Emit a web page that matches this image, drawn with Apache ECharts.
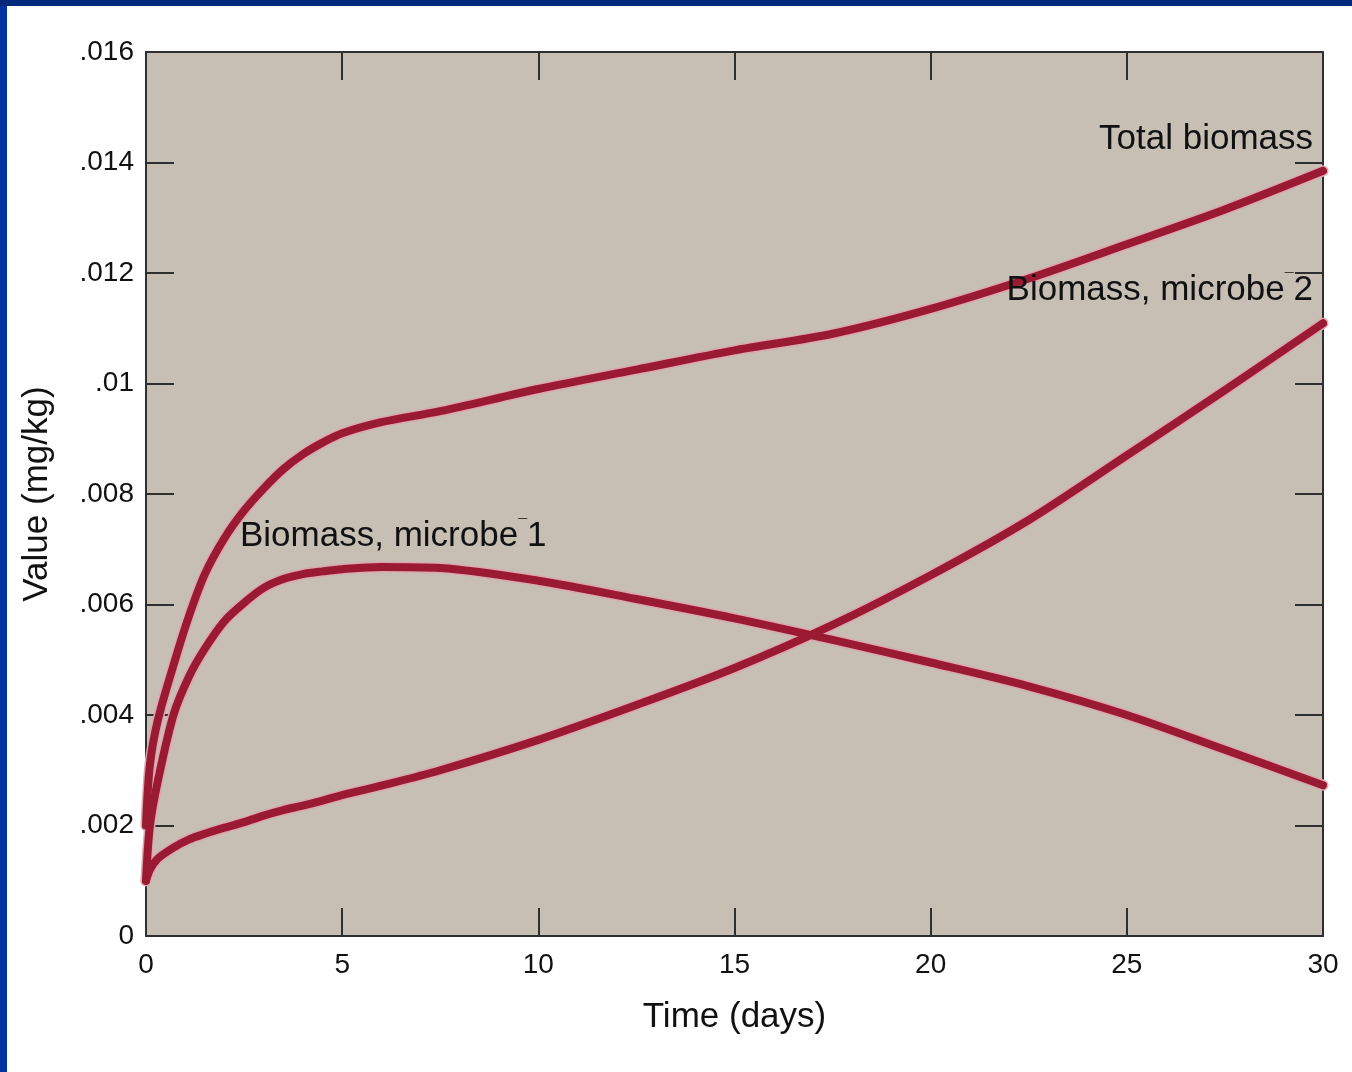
<!DOCTYPE html>
<html>
<head>
<meta charset="utf-8">
<script src="https://cdn.jsdelivr.net/npm/echarts@6/dist/echarts.min.js"></script>
<style>
  html, body { margin: 0; padding: 0; background: #ffffff; }
  #chart { position: absolute; left: 0; top: 0; width: 1352px; height: 1072px; }
  .frame-left { position: absolute; left: 0; top: 0; width: 7px; height: 1072px; background: #0034a0; }
  .frame-top { position: absolute; left: 0; top: 0; width: 1352px; height: 6px; background: #012a7d; }
</style>
</head>
<body>
<div id="chart"></div>
<div class="frame-left"></div>
<div class="frame-top"></div>
<script>
// time in days
const days = [0, 0.1, 0.3, 0.7, 1.1, 1.5, 2, 2.5, 3, 3.5, 4, 4.5, 5, 6, 7.5, 10, 12.5, 15, 17.5, 20, 22.5, 25, 27.5, 30]

// mg/kg
const totalBiomass = [0.002, 0.0031, 0.0039, 0.0049, 0.0058, 0.00655, 0.0072, 0.0077, 0.0081, 0.00845, 0.00872, 0.00893, 0.0091, 0.0093, 0.0095, 0.0099, 0.01025, 0.0106, 0.0109, 0.01135, 0.0119, 0.01252, 0.01315, 0.01385]
const microbe1 = [0.001, 0.002, 0.0028, 0.004, 0.0047, 0.0052, 0.0057, 0.00603, 0.0063, 0.00646, 0.00655, 0.0066, 0.00664, 0.00668, 0.00666, 0.00643, 0.0061, 0.00575, 0.00536, 0.00495, 0.00452, 0.004, 0.00337, 0.00273]
const microbe2 = [0.001, 0.0012, 0.0014, 0.0016, 0.00175, 0.00185, 0.00196, 0.00206, 0.00218, 0.00228, 0.00236, 0.00245, 0.00255, 0.00272, 0.003, 0.00355, 0.00418, 0.00485, 0.00563, 0.00653, 0.00753, 0.0087, 0.00988, 0.01109]

const xTicks = [0, 5, 10, 15, 20, 25, 30]
const yTickLabels = ['0', '.002', '.004', '.006', '.008', '.01', '.012', '.014', '.016']

const font = 'Liberation Sans, Arial, sans-serif'
const axisColor = '#2f2f2f'

const pairs = (ys) => days.map((d, i) => [d, ys[i]])

function curve(name, ys) {
  // pink halo underneath, dark red line on top
  return [
    {
      name: name + ' halo',
      type: 'line',
      data: pairs(ys),
      showSymbol: false,
      smooth: 0.3,
      silent: true,
      z: 2,
      lineStyle: { color: '#dca7ae', width: 11, cap: 'round', join: 'round' },
    },
    {
      name: name,
      type: 'line',
      data: pairs(ys),
      showSymbol: false,
      smooth: 0.3,
      z: 3,
      lineStyle: { color: '#9a1a33', width: 8, cap: 'round', join: 'round' },
    },
  ]
}

const baseX = {
  type: 'value',
  min: 0,
  max: 30,
  interval: 5,
  splitLine: { show: false },
  axisLine: { show: true, onZero: false, lineStyle: { color: axisColor, width: 2 } },
  axisTick: { show: true, inside: true, length: 28, lineStyle: { color: axisColor, width: 2 } },
}

const baseY = {
  type: 'value',
  min: 0,
  max: 0.016,
  interval: 0.002,
  splitLine: { show: false },
  axisLine: { show: true, onZero: false, lineStyle: { color: axisColor, width: 2 } },
  axisTick: { show: true, inside: true, length: 28, lineStyle: { color: axisColor, width: 2 } },
}

const chart = echarts.init(document.getElementById('chart'))

chart.setOption({
  animation: false,
  backgroundColor: '#ffffff',
  grid: {
    left: 146,
    top: 52,
    right: 29,
    bottom: 136,
    show: true,
    backgroundColor: '#c7beb4',
    borderWidth: 0,
  },
  xAxis: [
    {
      ...baseX,
      position: 'bottom',
      name: 'Time (days)',
      nameLocation: 'middle',
      nameGap: 64,
      nameTextStyle: { fontFamily: font, fontSize: 35, color: '#111' },
      axisLabel: {
        fontFamily: font,
        fontSize: 28,
        color: '#111',
        margin: 15,
        formatter: (v) => (xTicks.includes(v) ? String(v) : ''),
      },
    },
    {
      ...baseX,
      position: 'top',
      axisLabel: { show: false },
    },
  ],
  yAxis: [
    {
      ...baseY,
      position: 'left',
      name: 'Value (mg/kg)',
      nameLocation: 'middle',
      nameGap: 91,
      nameTextStyle: { fontFamily: font, fontSize: 35, color: '#111' },
      axisLabel: {
        fontFamily: font,
        fontSize: 28,
        color: '#111',
        margin: 12,
        formatter: (v) => yTickLabels[Math.round(v / 0.002)],
      },
    },
    {
      ...baseY,
      position: 'right',
      axisLabel: { show: false },
    },
  ],
  series: [
    ...curve('Total biomass', totalBiomass),
    ...curve('Biomass, microbe 1', microbe1),
    ...curve('Biomass, microbe 2', microbe2),
  ],
  graphic: [
    {
      type: 'text',
      right: 39,
      top: 122,
      z: 10,
      style: { text: 'Total biomass', font: '35px ' + font, fill: '#111' },
    },
    {
      type: 'text',
      right: 39,
      top: 273,
      z: 10,
      style: {
        text: 'Biomass, microbe{m|\u00AF}2',
        font: '35px ' + font,
        fill: '#111',
        rich: { m: { fontSize: 16, fontFamily: font, fill: '#111', verticalAlign: 'top' } },
      },
    },
    {
      type: 'text',
      left: 240,
      top: 519,
      z: 10,
      style: {
        text: 'Biomass, microbe{m|\u00AF}1',
        font: '35px ' + font,
        fill: '#111',
        rich: { m: { fontSize: 16, fontFamily: font, fill: '#111', verticalAlign: 'top' } },
      },
    },
  ],
})
</script>
</body>
</html>
